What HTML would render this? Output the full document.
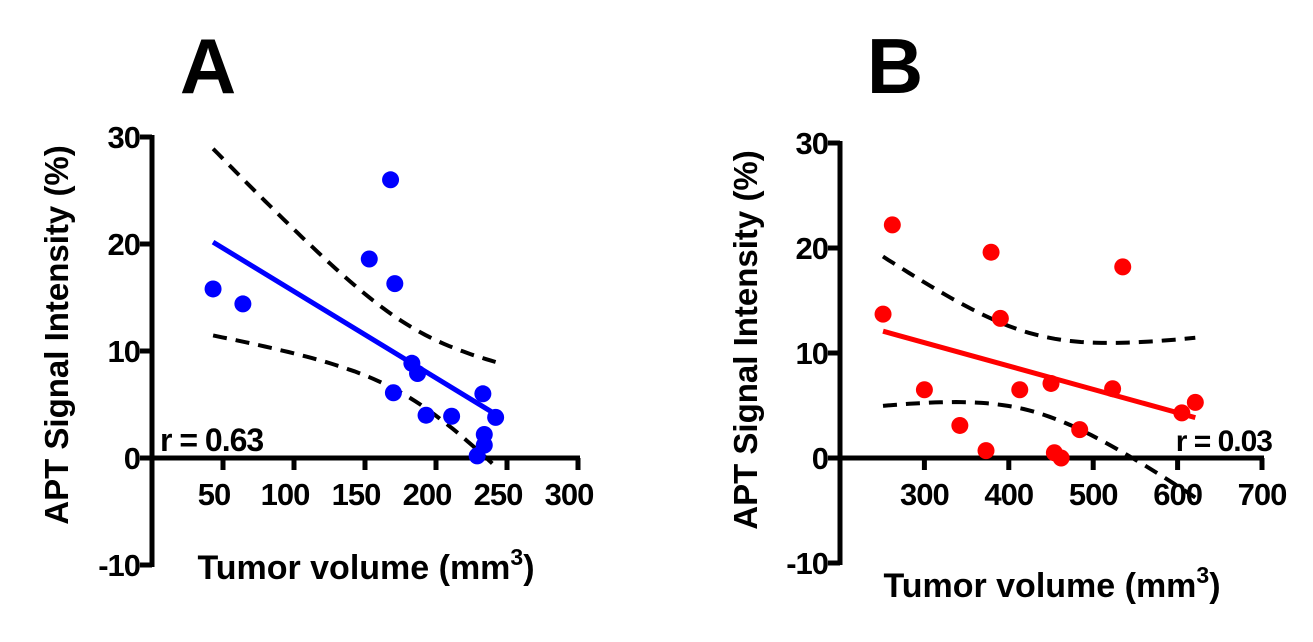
<!DOCTYPE html>
<html><head><meta charset="utf-8"><style>
html,body{margin:0;padding:0;background:#fff;}
svg{display:block;font-family:"Liberation Sans",Arial,sans-serif;font-weight:bold;}
</style></head><body>
<svg id="chart" width="1313" height="642" viewBox="0 0 1313 642"></svg>
<script>
// Panel A data
const aX = [43,64,168,153,171,183,187,170,193,211,233,242,234,234,229];
const aY = [15.8,14.4,26,18.6,16.3,8.85,7.9,6.1,4.0,3.9,6.0,3.8,2.2,1.2,0.2];
const aXTicks = [50,100,150,200,250,300];
const aYTicks = [-10,0,10,20,30];
// Panel B data
const bX = [262,251,379,390,300,413,450,523,535,342,373,454,462,484,605,621];
const bY = [22.2,13.7,19.6,13.3,6.5,6.5,7.1,6.6,18.2,3.1,0.7,0.5,0,2.7,4.3,5.3];
const bXTicks = [300,400,500,600,700];
const bYTicks = [-10,0,10,20,30];

const svg = document.getElementById('chart');
const NS = 'http://www.w3.org/2000/svg';
function mk(tag, attrs, parent){const e=document.createElementNS(NS,tag);for(const k in attrs)e.setAttribute(k,attrs[k]);(parent||svg).appendChild(e);return e;}

function panel(cfg){
  const g = mk('g',{});
  
  
  const sx = v => cfg.x0 + (v - cfg.xmin) * (cfg.x1 - cfg.x0) / (cfg.xmax - cfg.xmin);
  const sy = v => cfg.y0 - (v - 0) * (cfg.y0 - cfg.y30) / 30;
  const ya = mk('line',{x1:cfg.x0,y1:sy(30)-2,x2:cfg.x0,y2:sy(-10)+2,stroke:'#000','stroke-width':5},g);
  
  
  const xa = mk('line',{x1:cfg.x0-2,y1:sy(0),x2:cfg.x1+2,y2:sy(0),stroke:'#000','stroke-width':5},g);
  
  
  cfg.yTicks.forEach(t=>{
    mk('line',{x1:cfg.x0-12,y1:sy(t),x2:cfg.x0,y2:sy(t),stroke:'#000','stroke-width':5},g);
    const tx = mk('text',{x:cfg.x0-12,y:sy(t)+11,'text-anchor':'end','font-size':31,'letter-spacing':'-1'},g);
    tx.textContent = t;
    
    
  });
  cfg.xTicks.forEach(t=>{
    mk('line',{x1:sx(t),y1:sy(0),x2:sx(t),y2:sy(0)+12,stroke:'#000','stroke-width':5},g);
    const tx = mk('text',{x:sx(t)-cfg.lblOff,y:sy(0)+47,'text-anchor':'middle','font-size':31,'letter-spacing':'-1'},g);
    tx.textContent = t;
    
    
  });
  const X=cfg.xs, Y=cfg.ys, n=X.length;
  const xm=X.reduce((a,b)=>a+b)/n, ym=Y.reduce((a,b)=>a+b)/n;
  let sxx=0,sxy=0; for(let i=0;i<n;i++){sxx+=(X[i]-xm)**2;sxy+=(X[i]-xm)*(Y[i]-ym);}
  const b=sxy/sxx, a=ym-b*xm;
  let sse=0; for(let i=0;i<n;i++) sse+=(Y[i]-a-b*X[i])**2;
  const s=Math.sqrt(sse/(n-2)), t=cfg.t;
  const lo=Math.min(...X), hi=Math.max(...X);
  let up='',dn='';
  for(let k=0;k<=60;k++){
    const x=lo+(hi-lo)*k/60, yh=a+b*x, w=t*s*Math.sqrt(1/n+(x-xm)**2/sxx);
    up+=(k?'L':'M')+sx(x).toFixed(1)+','+sy(yh+w).toFixed(1);
    dn+=(k?'L':'M')+sx(x).toFixed(1)+','+sy(yh-w).toFixed(1);
  }
  const u=mk('path',{d:up,fill:'none',stroke:'#000','stroke-width':4,'stroke-dasharray':'14,9'},g);
  
  
  const d=mk('path',{d:dn,fill:'none',stroke:'#000','stroke-width':4,'stroke-dasharray':'14,9'},g);
  
  
  const rl=mk('line',{x1:sx(lo),y1:sy(a+b*lo),x2:sx(hi),y2:sy(a+b*hi),stroke:cfg.color,'stroke-width':5},g);
  
  
  for(let i=0;i<n;i++){
    const c=mk('circle',{cx:sx(X[i]),cy:sy(Y[i]),r:8.5,fill:cfg.color},g);
    
    
  }
  const r=mk('text',{x:cfg.rx,y:cfg.ry,'text-anchor':cfg.ranchor,'font-size':cfg.rsize,'letter-spacing':'-1'},g);
  r.textContent=cfg.rtext;
  
  
  const L=mk('text',{x:cfg.lx,y:93,'text-anchor':'middle','font-size':78},g);
  L.textContent=cfg.letter;
  
  
  const yt=mk('text',{x:0,y:0,'text-anchor':'middle','font-size':33,transform:`translate(${cfg.ytx},${cfg.yty}) rotate(-90)`},g);
  yt.textContent='APT Signal Intensity (%)';
  
  
  const xt=mk('text',{x:cfg.xtx,y:cfg.xty,'text-anchor':'middle','font-size':34},g);
  xt.innerHTML='Tumor volume (mm<tspan dy="-14" font-size="23">3</tspan><tspan dy="14">)</tspan>';
  
  
}

panel({name:'panel-a',xs:aX,ys:aY,xTicks:aXTicks,yTicks:aYTicks,xmin:0,xmax:300,x0:152,x1:578,y0:458,y30:137,
  color:'#0000ff',t:2.160,rx:160,ry:451,ranchor:'start',rsize:32,rtext:'r = 0.63',letter:'A',lx:208,ytx:68,yty:335,xtx:366,xty:579,lblOff:9});
panel({name:'panel-b',xs:bX,ys:bY,xTicks:bXTicks,yTicks:bYTicks,xmin:200,xmax:700,x0:840,x1:1262,y0:458,y30:143,
  color:'#ff0000',t:2.145,rx:1272,ry:451,ranchor:'end',rsize:30,rtext:'r = 0.03',letter:'B',lx:895,ytx:757,yty:340,xtx:1052,xty:597,lblOff:0});
</script>
</body></html>
